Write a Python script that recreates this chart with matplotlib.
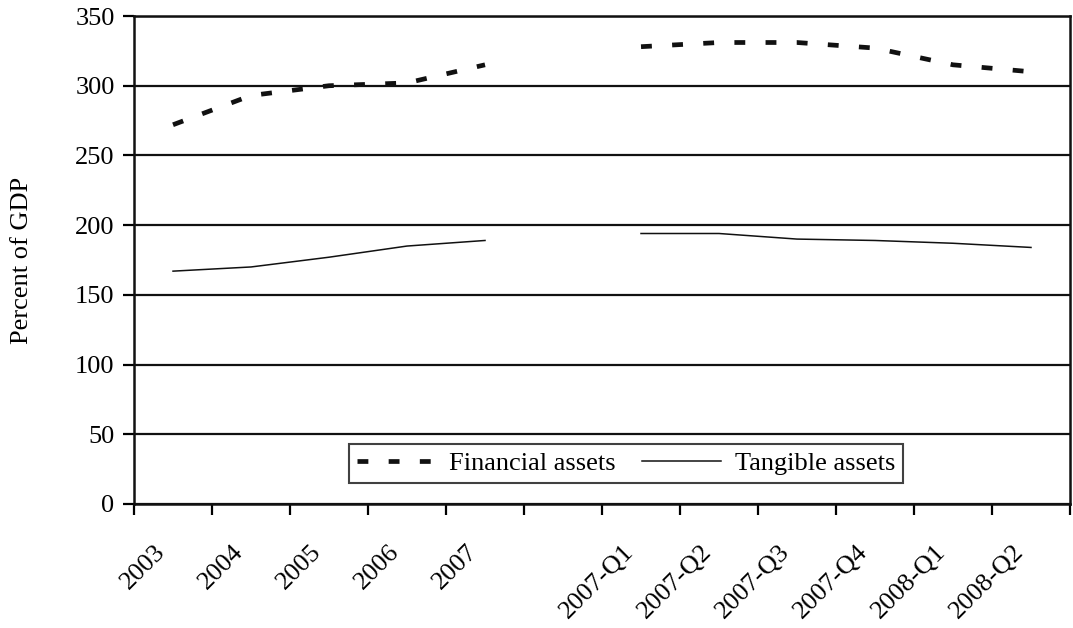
import numpy as np
import matplotlib.pyplot as plt
from matplotlib.transforms import ScaledTranslation

plt.rcParams['font.family'] = ['Liberation Serif', 'DejaVu Serif']

categories = ["2003", "2004", "2005", "2006", "2007", "",
              "2007-Q1", "2007-Q2", "2007-Q3", "2007-Q4", "2008-Q1", "2008-Q2"]
financial = [272, 293, 300, 302, 315, np.nan, 328, 331, 331, 327, 315, 310]
tangible = [167, 170, 177, 185, 189, np.nan, 194, 194, 190, 189, 187, 184]

x = np.arange(len(categories))

fig = plt.figure(figsize=(10.73, 6.28), dpi=100)
ax = fig.add_axes([0.1249, 0.1975, 0.8723, 0.777])

ax.plot(x, financial, color='#111111', lw=3.4, linestyle=(0, (2.3, 4.3)),
        dash_capstyle='butt', label='Financial assets')
ax.plot(x, tangible, color='#111111', lw=1.1, label='Tangible assets')

ax.set_xlim(-0.5, len(categories) - 0.5)
ax.set_ylim(0, 350)
ax.set_yticks(np.arange(0, 351, 50))
ax.yaxis.grid(True, color='#111111', lw=1.6)
ax.set_axisbelow(True)

ax.set_xticks(x)
ax.set_xticklabels(categories, rotation=45, ha='right', rotation_mode='anchor')
ax.set_xticks(np.arange(-0.5, len(categories)), minor=True)
ax.tick_params(axis='x', which='major', length=0, pad=22, labelsize=19)
ax.tick_params(axis='x', which='minor', length=8, width=1.6, direction='out')
ax.tick_params(axis='y', length=8, width=1.6, labelsize=19, pad=6)

# nudge the rotated labels to sit like the original
offset = ScaledTranslation(-0.19, -0.06, fig.dpi_scale_trans)
for lab in ax.get_xticklabels():
    lab.set_transform(lab.get_transform() + offset)

for s in ax.spines.values():
    s.set_linewidth(1.8)
    s.set_color('#111111')

ax.set_ylabel("Percent of GDP", fontsize=19, labelpad=30)

leg = ax.legend(loc='lower center', bbox_to_anchor=(0.5256, 0.043), ncol=2,
                frameon=True, fancybox=False, fontsize=19, handlelength=3.0,
                borderpad=0.3, columnspacing=1.0, handletextpad=0.5,
                borderaxespad=0)
leg.get_frame().set_edgecolor('#111111')
leg.get_frame().set_linewidth(1.5)

fig.savefig("out.png", dpi=100)
